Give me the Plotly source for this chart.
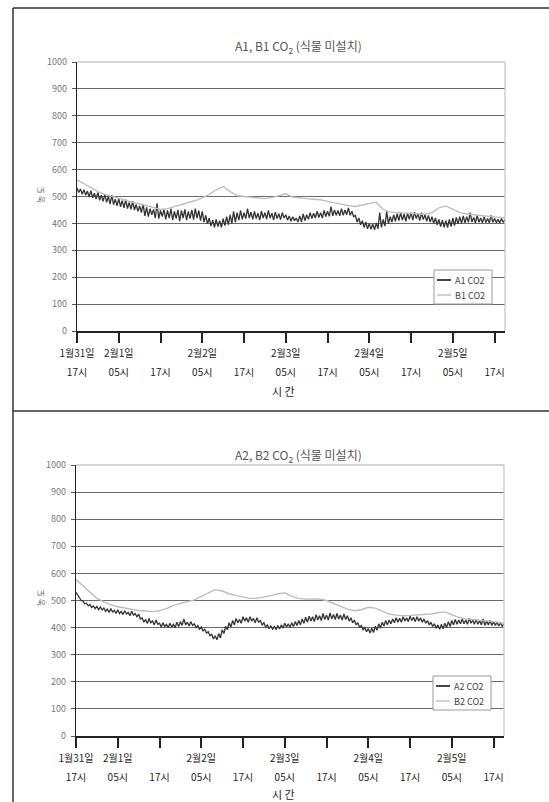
import plotly.graph_objects as go

# ---------------- data ----------------
# time axis: hours since 1월31일 17시
tick_hours = [0, 12, 24, 36, 48, 60, 72, 84, 96, 108, 120]
tick_times = ["17시", "05시", "17시", "05시", "17시", "05시", "17시", "05시", "17시", "05시", "17시"]
date_hours = [0, 12, 36, 60, 84, 108]
date_labels = ["1월31일", "2월1일", "2월2일", "2월3일", "2월4일", "2월5일"]
y_ticks = [0, 100, 200, 300, 400, 500, 600, 700, 800, 900, 1000]

a_step_hour = 0.5     # A series: every 30 minutes
b_step_hour = 2       # B series: every 2 hours

a1_co2 = [532, 515, 528, 508, 525, 505, 520, 498, 522, 495, 512, 490, 515, 486, 505, 482,
          508, 478, 500, 472, 505, 470, 490, 465, 492, 462, 485, 458, 488, 455, 478, 452,
          482, 450, 470, 445, 465, 440, 472, 428, 460, 425, 455, 432, 452, 420, 475, 418,
          448, 425, 452, 415, 448, 420, 455, 412, 445, 418, 450, 408, 448, 420, 452, 412,
          445, 418, 450, 414, 455, 420, 448, 410, 445, 405, 430, 398, 420, 390, 412, 385,
          415, 388, 410, 385, 418, 392, 425, 395, 432, 400, 445, 405, 440, 412, 448, 415,
          440, 418, 455, 420, 442, 415, 445, 418, 438, 412, 446, 420, 440, 416, 448, 420,
          438, 412, 442, 418, 436, 414, 440, 420, 432, 412, 428, 408, 425, 410, 420, 405,
          428, 406, 435, 410, 432, 415, 440, 418, 438, 420, 445, 422, 440, 420, 448, 425,
          445, 426, 462, 428, 450, 430, 448, 428, 455, 430, 450, 432, 458, 430, 445, 425,
          430, 405, 420, 395, 410, 385, 405, 380, 400, 378, 398, 376, 402, 380, 440, 385,
          415, 390, 445, 398, 425, 405, 432, 408, 436, 410, 440, 412, 435, 408, 438, 415,
          440, 412, 442, 418, 436, 410, 440, 414, 432, 408, 430, 405, 425, 400, 420, 395,
          415, 388, 412, 385, 410, 384, 415, 388, 420, 392, 422, 398, 425, 400, 428, 402,
          425, 404, 440, 405, 422, 402, 430, 404, 420, 402, 425, 403, 418, 402, 430, 404,
          418, 403, 415, 402, 418, 404, 414, 403]

b1_co2 = [562, 548, 532, 518, 508, 500, 492, 485, 478, 472,
          466, 458, 452, 455, 462, 470, 478, 485, 495, 508,
          525, 537, 518, 503, 500, 497, 494, 492, 496, 502,
          510, 498, 494, 492, 490, 488, 482, 476, 470, 466,
          463, 469, 475, 479, 452, 442, 440, 438, 436, 435,
          434, 440, 458, 465, 452, 440, 435, 432, 428, 426,
          424, 422, 421]

a2_co2 = [530, 520, 512, 500, 498, 488, 490, 480, 485, 474, 480, 470, 478, 466, 476, 465,
          472, 460, 468, 456, 470, 458, 464, 452, 466, 452, 460, 448, 462, 450, 456, 444,
          460, 446, 452, 440, 450, 432, 436, 420, 430, 415, 434, 418, 425, 410, 428, 412,
          416, 402, 418, 404, 412, 400, 416, 402, 412, 400, 420, 404, 422, 408, 432, 410,
          420, 406, 422, 408, 414, 400, 408, 394, 402, 388, 394, 380, 385, 370, 375, 358,
          370, 355, 378, 362, 392, 378, 405, 392, 418, 402, 426, 410, 434, 418, 430, 416,
          440, 424, 436, 420, 440, 424, 434, 418, 436, 420, 426, 410, 418, 402, 410, 396,
          406, 394, 404, 392, 408, 395, 410, 398, 416, 402, 414, 400, 418, 404, 422, 408,
          426, 410, 432, 416, 438, 420, 442, 424, 440, 422, 448, 428, 444, 426, 452, 430,
          446, 428, 454, 432, 448, 430, 452, 432, 446, 428, 450, 430, 444, 424, 436, 418,
          428, 410, 418, 400, 408, 392, 400, 385, 396, 380, 398, 382, 405, 390, 414, 398,
          420, 406, 426, 410, 428, 414, 432, 418, 436, 420, 434, 420, 440, 424, 436, 422,
          442, 426, 438, 422, 440, 424, 436, 420, 432, 416, 426, 410, 420, 404, 414, 398,
          410, 394, 412, 396, 416, 400, 422, 404, 426, 410, 430, 412, 428, 414, 432, 414,
          428, 412, 434, 416, 428, 412, 430, 412, 426, 410, 432, 408, 424, 410, 426, 408,
          422, 408, 420, 406, 418, 404, 416, 404]

b2_co2 = [577, 555, 530, 508, 495, 484, 477, 472, 467, 463,
          461, 459, 462, 470, 482, 490, 496, 502, 515, 528,
          540, 535, 525, 518, 512, 508, 508, 512, 518, 525,
          528, 515, 508, 505, 505, 506, 500, 488, 478, 468,
          462, 466, 475, 472, 460, 450, 446, 444, 445, 446,
          448, 450, 455, 458, 448, 438, 432, 430, 428, 425,
          422, 418, 415]

a_hours = [i * a_step_hour for i in range(len(a1_co2))]
b_hours = [i * b_step_hour for i in range(len(b1_co2))]

# ---------------- layout helpers ----------------
W, H = 549, 802
def px(xp):
    return xp / W
def py(yp):
    return 1 - yp / H

FONT = "Noto Sans CJK KR"
DARK = "#333333"
LIGHT = "#bdbdbd"

fig = go.Figure()

fig.add_trace(go.Scatter(x=a_hours, y=a1_co2, name="A1 CO2", mode="lines",
                         line=dict(color=DARK, width=1.3), xaxis="x", yaxis="y"))
fig.add_trace(go.Scatter(x=b_hours, y=b1_co2, name="B1 CO2", mode="lines",
                         line=dict(color=LIGHT, width=1.4), xaxis="x", yaxis="y"))
fig.add_trace(go.Scatter(x=a_hours, y=a2_co2, name="A2 CO2", mode="lines",
                         line=dict(color=DARK, width=1.3), xaxis="x2", yaxis="y2"))
fig.add_trace(go.Scatter(x=b_hours, y=b2_co2, name="B2 CO2", mode="lines",
                         line=dict(color=LIGHT, width=1.4), xaxis="x2", yaxis="y2"))
# invisible helpers so the tick / time-label axes exist
fig.add_trace(go.Scatter(x=tick_hours, y=[0] * len(tick_hours), mode="markers",
                         marker=dict(opacity=0), hoverinfo="skip", xaxis="x3", yaxis="y"))
fig.add_trace(go.Scatter(x=tick_hours, y=[0] * len(tick_hours), mode="markers",
                         marker=dict(opacity=0), hoverinfo="skip", xaxis="x4", yaxis="y2"))

xr = [0, 123]
top_x = [px(77), px(505)]
top_y = [py(331), py(62)]
bot_x = [px(76), px(504)]
bot_y = [py(736), py(465)]

def xaxis_dates(domain, anchor):
    return dict(domain=domain, anchor=anchor, range=xr, tickmode="array",
                tickvals=date_hours, ticktext=date_labels, showgrid=False, zeroline=False,
                showline=True, linecolor="#222", linewidth=1.5, ticks="",
                tickfont=dict(family=FONT, size=10, color="#222"),
                ticklabelstandoff=12, tickangle=0, automargin=False)

def xaxis_times(domain, anchor, over):
    return dict(domain=domain, anchor=anchor, overlaying=over, side="bottom", range=xr,
                tickmode="array", tickvals=tick_hours, ticktext=tick_times,
                showgrid=False, zeroline=False, showline=False,
                ticks="outside", ticklen=11, tickwidth=1.5, tickcolor="#222",
                tickfont=dict(family=FONT, size=10, color="#222"),
                ticklabelstandoff=21, tickangle=0, automargin=False)

def yaxis_main(domain, anchor):
    return dict(domain=domain, anchor=anchor, range=[0, 1000], tickmode="array",
                tickvals=y_ticks, showgrid=True, gridcolor="#6a6a6a", gridwidth=1.2,
                zeroline=False, showline=True, linecolor="#222", linewidth=1.3,
                ticks="outside", ticklen=4, tickcolor="#555",
                tickfont=dict(family=FONT, size=9, color="#777"), ticklabelstandoff=3,
                automargin=False)

fig.update_layout(
    width=W, height=H, autosize=False,
    margin=dict(l=0, r=0, t=0, b=0, pad=0, autoexpand=False),
    paper_bgcolor="white", plot_bgcolor="white",
    font=dict(family=FONT),
    xaxis=xaxis_dates(top_x, "y"),
    xaxis3=xaxis_times(top_x, "y", "x"),
    yaxis=yaxis_main(top_y, "x"),
    xaxis2=xaxis_dates(bot_x, "y2"),
    xaxis4=xaxis_times(bot_x, "y2", "x2"),
    yaxis2=yaxis_main(bot_y, "x2"),
    showlegend=False,
)

annos = [
    dict(text="A1, B1 CO<sub>2</sub> (식물 미설치)", x=px(298), y=py(47)),
    dict(text="A2, B2 CO<sub>2</sub> (식물 미설치)", x=px(298), y=py(455)),
]
for a in annos:
    fig.add_annotation(xref="paper", yref="paper", showarrow=False,
                       font=dict(family=FONT, size=12, color="#555"),
                       xanchor="center", yanchor="middle", **a)

for ty in (391, 794):
    fig.add_annotation(text="시 간", xref="paper", yref="paper", x=px(283), y=py(ty),
                       showarrow=False, font=dict(family=FONT, size=11, color="#222"),
                       xanchor="center", yanchor="middle")
for ty in (195, 598):
    fig.add_annotation(text="농 도", xref="paper", yref="paper", x=px(40), y=py(ty),
                       showarrow=False, textangle=-90,
                       font=dict(family=FONT, size=8, color="#666"),
                       xanchor="center", yanchor="middle")

# legends (boxed, short line swatches)
legend_boxes = [
    ((434, 270, 492, 304), (("A1 CO2", DARK, 1.8, 280), ("B1 CO2", LIGHT, 1.4, 295))),
    ((433, 676, 491, 710), (("A2 CO2", DARK, 1.8, 686), ("B2 CO2", LIGHT, 1.4, 701))),
]
for (x0, y0, x1, y1), entries in legend_boxes:
    fig.add_shape(type="rect", xref="paper", yref="paper", x0=px(x0), x1=px(x1),
                  y0=py(y1), y1=py(y0), line=dict(color="#999", width=1),
                  fillcolor="white", layer="above")
    for name, col, lw, ly in entries:
        fig.add_shape(type="line", xref="paper", yref="paper", x0=px(x0 + 3), x1=px(x0 + 17),
                      y0=py(ly), y1=py(ly), line=dict(color=col, width=lw), layer="above")
        fig.add_annotation(text=name, xref="paper", yref="paper", x=px(x0 + 19), y=py(ly),
                           showarrow=False, xanchor="left", yanchor="middle",
                           font=dict(family=FONT, size=9, color="#444"))

# frame lines
frame = dict(color="#333", width=1.5)
fig.add_shape(type="line", xref="paper", yref="paper", x0=px(13), x1=px(13), y0=py(8), y1=0, line=frame)
fig.add_shape(type="line", xref="paper", yref="paper", x0=px(13), x1=1, y0=py(8), y1=py(8), line=frame)
fig.add_shape(type="line", xref="paper", yref="paper", x0=px(13), x1=1, y0=py(411), y1=py(411), line=frame)

# faint plot-area border (top and right)
for xa, ya in (("x", "y"), ("x2", "y2")):
    fig.add_shape(type="line", xref=f"{xa} domain", yref=f"{ya} domain",
                  x0=0, x1=1, y0=1, y1=1, line=dict(color="#c8c8c8", width=1.3), layer="above")
    fig.add_shape(type="line", xref=f"{xa} domain", yref=f"{ya} domain",
                  x0=1, x1=1, y0=0, y1=1, line=dict(color="#c8c8c8", width=1.3), layer="above")

fig.write_html("out.html", config={"displayModeBar": False},
               post_script="document.body.style.margin='0px';")
